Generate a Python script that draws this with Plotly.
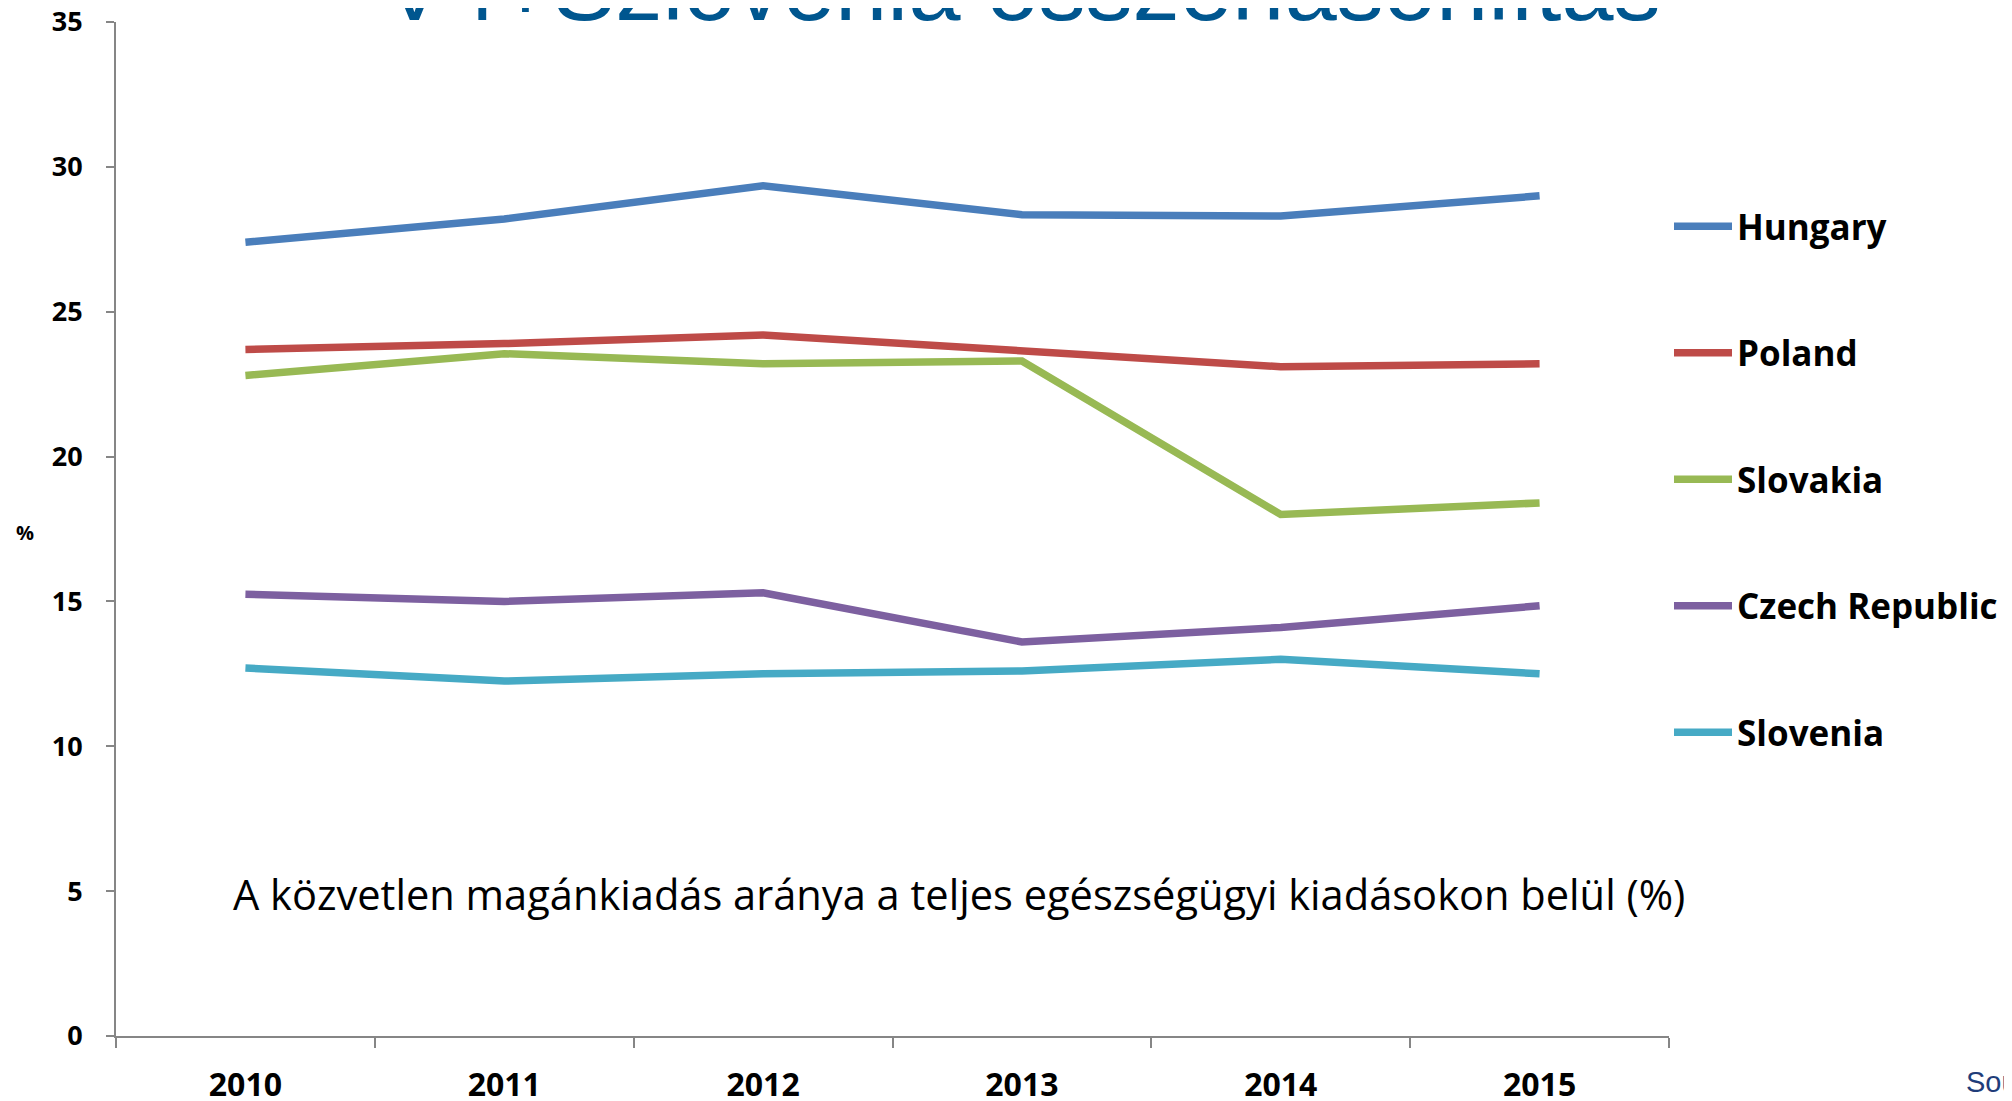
import plotly.graph_objects as go

years = ["2010", "2011", "2012", "2013", "2014", "2015"]
hungary = [27.4, 28.2, 29.35, 28.35, 28.3, 29.0]
poland = [23.7, 23.9, 24.2, 23.65, 23.1, 23.2]
slovakia = [22.8, 23.55, 23.2, 23.3, 18.0, 18.4]
czech = [15.25, 15.0, 15.3, 13.6, 14.1, 14.85]
slovenia = [12.7, 12.25, 12.5, 12.6, 13.0, 12.5]

series = [
    ("Hungary", hungary, "#4A7EBB"),
    ("Poland", poland, "#BE4B48"),
    ("Slovakia", slovakia, "#98B954"),
    ("Czech Republic", czech, "#7D60A0"),
    ("Slovenia", slovenia, "#46AAC5"),
]

fig = go.Figure()
for i, (name, vals, col) in enumerate(series):
    fig.add_trace(go.Scatter(
        x=years, y=vals, name=name, mode="lines",
        line=dict(color=col, width=7.5), legendgroup=name,
    ))

OFF = 8  # page body margin
W, H = 2004, 1093
L, R, T, B = 108, 343, 14, 65
ph = H - T - B
pw = W - L - R

def py(Y):
    return (H - B - (Y - OFF)) / ph

def px(X):
    return (X - OFF - L) / pw

fig.update_layout(
    width=W, height=H,
    margin=dict(l=L, r=R, t=T, b=B, autoexpand=False),
    paper_bgcolor="white", plot_bgcolor="white",
    font=dict(family="Open Sans", color="black"),
    showlegend=True,
    legend=dict(
        x=px(1669), y=py(197), xanchor="left", yanchor="top",
        font=dict(family="Open Sans", size=35, weight="bold", color="black"),
        tracegroupgap=78, itemwidth=58, bgcolor="rgba(0,0,0,0)",
    ),
    xaxis=dict(
        type="category", range=[-0.5, 5.5], showgrid=False, automargin=False,
        showline=True, linecolor="#868686", linewidth=2,
        ticks="outside", tickson="boundaries", ticklen=10, tickcolor="#868686", tickwidth=2,
        tickfont=dict(family="Open Sans", size=32, weight="bold", color="black"),
        ticklabelstandoff=20, ticklabeloverflow="allow",
    ),
    yaxis=dict(
        range=[0, 35], dtick=5, showgrid=False, zeroline=False, automargin=False,
        showline=True, linecolor="#868686", linewidth=2,
        ticks="outside", ticklen=8, tickcolor="#868686", tickwidth=2,
        tickfont=dict(family="Open Sans", size=27, weight="bold", color="black"),
        ticklabelstandoff=18, ticklabeloverflow="allow",
    ),
    annotations=[
        dict(text="V4+Szlovénia összehasonlítás", xref="paper", yref="paper",
             x=px(1022), y=py(42), xanchor="center", yanchor="bottom", showarrow=False,
             font=dict(family="Liberation Sans, Arial", size=94, color="#00568F")),
        dict(text="A közvetlen magánkiadás aránya a teljes egészségügyi kiadásokon belül (%)",
             xref="paper", yref="paper", x=px(231), y=py(894), xanchor="left", yanchor="middle",
             showarrow=False,
             font=dict(family="Open Sans", size=41.6, color="black")),
        dict(text="%", xref="paper", yref="paper", x=px(25), y=py(532), xanchor="center",
             yanchor="middle", showarrow=False,
             font=dict(family="Open Sans", size=20, weight="bold", color="black")),
        dict(text="Source: OECD Health Statistics", xref="paper", yref="paper", x=px(1964), y=py(1082),
             xanchor="left", yanchor="middle", showarrow=False,
             font=dict(family="Liberation Sans, Arial", size=29, color="#1F3D7A")),
    ],
)

fig.write_html("out.html")
